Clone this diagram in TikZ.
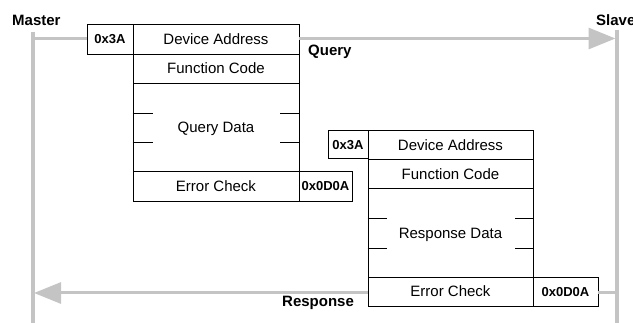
\documentclass[tikz,border=0pt]{standalone}
\usepackage{fontspec}
\setmainfont{Liberation Sans}
\usetikzlibrary{arrows.meta}
\definecolor{linegray}{HTML}{C4C4C4}
\tikzset{
  cell/.style={draw=black, line width=0.8pt, inner sep=0pt, font=\fontsize{15pt}{18pt}\selectfont,
     text height=10.7pt, text depth=0pt},
  hexbox/.style={draw=black, line width=0.8pt, inner sep=0pt, font=\fontsize{13pt}{15pt}\selectfont\bfseries,
     text height=9.3pt, text depth=0pt},
  lbl/.style={inner sep=0pt, font=\fontsize{15pt}{18pt}\selectfont\bfseries, anchor=base west},
  life/.style={draw=linegray, line width=3.8pt},
  msg/.style={draw=linegray, line width=3pt},
  msgarrow/.style={msg, -{Triangle[length=27pt,width=21pt,fill=linegray]}},
  tick/.style={draw=black, line width=0.8pt}
}
\begin{document}
\begin{tikzpicture}[x=1pt,y=-1pt]
\useasboundingbox (0,0) rectangle (633,323);
% labels
\node[lbl] (master) at (12,26) {Master};
\node[lbl] (slave) at (596,26) {Slave};
\node[lbl] (qlbl) at (308,56) {Query};
\node[lbl] (rlbl) at (282,307) {Response};
% lifelines
\coordinate (mtop) at (33,32);
\coordinate (mbot) at (33,323);
\coordinate (stop) at (617,30);
\coordinate (sbot) at (617,323);
\draw[life] (mtop) -- (mbot);
\draw[life] (stop) -- (sbot);
% query frame
\node[hexbox, minimum width=46pt, minimum height=30pt] (q3a) at (110,39) {0x3A};
\node[cell, minimum width=166pt, minimum height=30pt] (qdev) at (216,39) {Device Address};
\node[cell, minimum width=166pt, minimum height=29pt] (qfun) at (216,68.5) {Function Code};
\node[cell, minimum width=166pt, minimum height=88pt] (qdat) at (216,127) {Query Data};
\node[cell, minimum width=166pt, minimum height=30pt] (qchk) at (216,186) {Error Check};
\node[hexbox, minimum width=53pt, minimum height=30pt] (qcrc) at (325.5,186) {0x0D0A};
\draw[tick] (qdat.west |- 0,113) -- +(20,0);
\draw[tick] (qdat.west |- 0,142) -- +(20,0);
\draw[tick] (qdat.east |- 0,113) -- +(-19,0);
\draw[tick] (qdat.east |- 0,142) -- +(-19,0);
% response frame
\node[hexbox, minimum width=40pt, minimum height=28pt] (r3a) at (348,144.5) {0x3A};
\node[cell, minimum width=165pt, minimum height=29pt] (rdev) at (450.5,145) {Device Address};
\node[cell, minimum width=165pt, minimum height=29pt] (rfun) at (450.5,174) {Function Code};
\node[cell, minimum width=165pt, minimum height=88.5pt] (rdat) at (450.5,232.75) {Response Data};
\node[cell, minimum width=165pt, minimum height=29pt] (rchk) at (450.5,291.5) {Error Check};
\node[hexbox, minimum width=65pt, minimum height=29pt] (rcrc) at (565.5,291.5) {0x0D0A};
\draw[tick] (rdat.west |- 0,218) -- +(19,0);
\draw[tick] (rdat.west |- 0,248) -- +(19,0);
\draw[tick] (rdat.east |- 0,218) -- +(-18,0);
\draw[tick] (rdat.east |- 0,248) -- +(-18,0);
% messages
\coordinate (qline) at (0,38.5);
\coordinate (rline) at (0,293);
\draw[msg] (mtop |- qline) -- (q3a.west |- qline);
\draw[msgarrow] (qdev.east |- qline) -- ([xshift=-1.5pt]stop |- qline);
\draw[msg] (stop |- rline) -- (rcrc.east |- rline);
\draw[msgarrow] (rchk.west |- rline) -- ([xshift=1pt]mtop |- rline);
\end{tikzpicture}
\end{document}
